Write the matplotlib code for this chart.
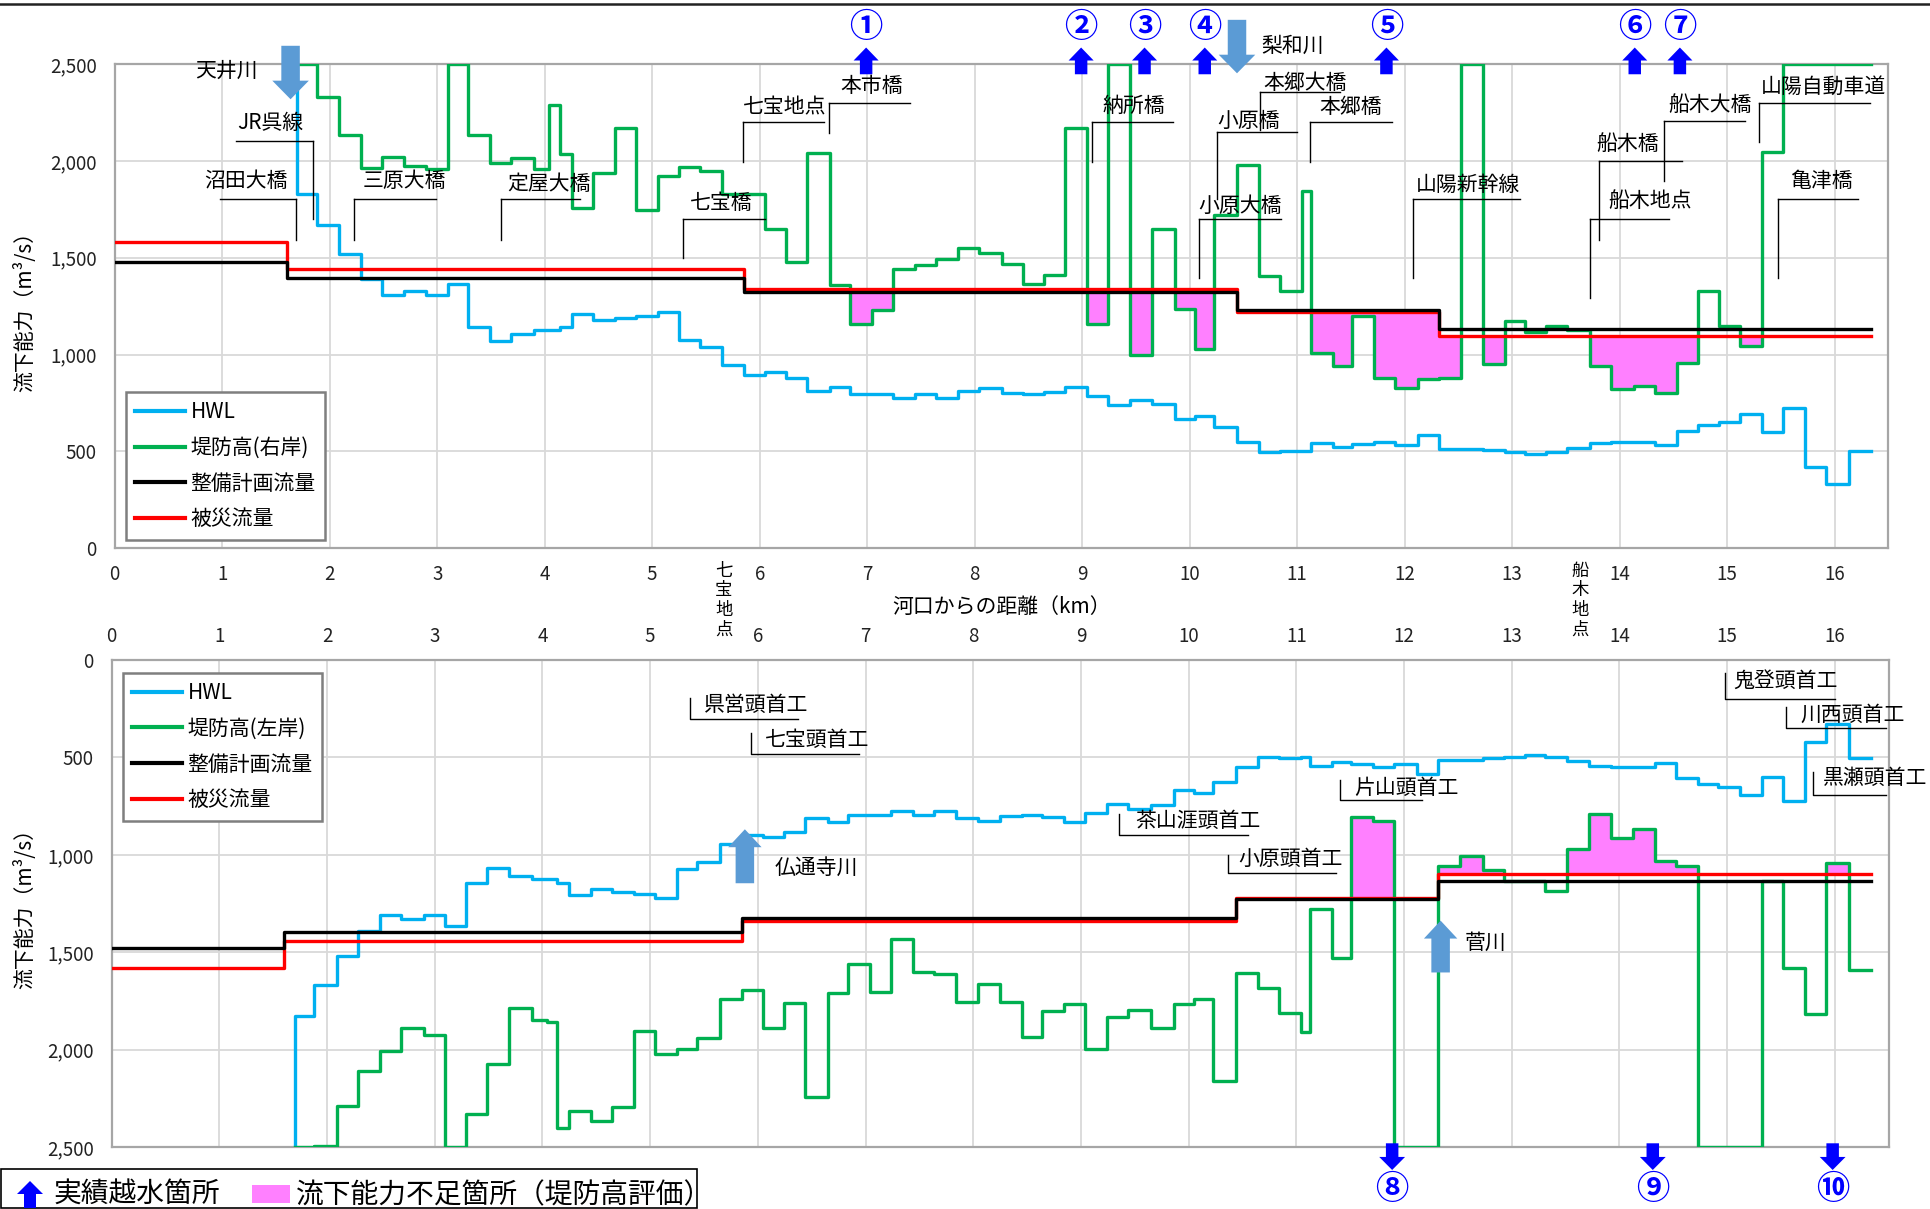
import numpy as np
import matplotlib
matplotlib.use("Agg")
import matplotlib.pyplot as plt
from matplotlib.patches import FancyArrow, Rectangle
from matplotlib.ticker import FuncFormatter

plt.rcParams["font.family"] = ["Noto Sans CJK JP", "DejaVu Sans"]

# ---------------------------------------------------------------- data
# cross-section boundaries (distance from river mouth, km)
section_km = [1.70, 1.88, 2.09, 2.29, 2.49, 2.69, 2.90, 3.10, 3.29, 3.49,
              3.69, 3.90, 4.04, 4.14, 4.25, 4.45, 4.65, 4.85, 5.05, 5.25,
              5.44, 5.65, 5.85, 6.05, 6.24, 6.44, 6.65, 6.84, 7.04, 7.24,
              7.44, 7.64, 7.84, 8.04, 8.25, 8.45, 8.64, 8.84, 9.04, 9.24,
              9.44, 9.65, 9.86, 10.05, 10.23, 10.44, 10.64, 10.84, 11.04, 11.13,
              11.33, 11.51, 11.71, 11.91, 12.12, 12.32, 12.52, 12.73, 12.93, 13.12,
              13.31, 13.51, 13.72, 13.92, 14.13, 14.33, 14.53, 14.73, 14.92, 15.12,
              15.32, 15.52, 15.72, 15.92, 16.13, 16.34]

# value used for capacities at or beyond the top of the axis
OFF_SCALE = 2500

# discharge capacity at HWL (m3/s)
hwl = [1827, 1667, 1517, 1390, 1310, 1330, 1310, 1365, 1143, 1068,
       1107, 1125, 1125, 1143, 1207, 1178, 1190, 1201, 1220, 1075,
       1039, 944, 896, 908, 881, 813, 832, 798, 798, 775,
       798, 775, 813, 827, 801, 795, 805, 832, 787, 741,
       763, 746, 668, 684, 626, 551, 496, 502, 500, 543,
       524, 536, 551, 535, 583, 515, 515, 505, 497, 488,
       496, 516, 543, 551, 551, 531, 606, 638, 650, 695,
       600, 722, 420, 331, 502]

# discharge capacity at levee crown, right bank (m3/s)
levee_right = [2500, 2330, 2132, 1961, 2022, 1973, 1956, 2500, 2132, 1988,
               2013, 1956, 2288, 2035, 1755, 1939, 2172, 1744, 1920, 1966,
               1947, 1829, 1829, 1649, 1479, 2042, 1360, 1160, 1232, 1444,
               1465, 1491, 1548, 1522, 1470, 1362, 1413, 2172, 1160, 2500,
               1000, 1649, 1236, 1029, 1718, 1978, 1404, 1327, 1844, 1010,
               939, 1198, 879, 827, 874, 879, 2500, 953, 1172, 1115,
               1149, 1129, 939, 822, 836, 801, 956, 1327, 1149, 1046,
               2045, 2500, 2500, 2500, 2500]

# discharge capacity at levee crown, left bank (m3/s)
levee_left = [2500, 2495, 2288, 2110, 2007, 1887, 1925, 2500, 2332, 2074,
              1788, 1848, 1857, 2401, 2315, 2365, 2296, 1905, 2023, 1999,
              1943, 1742, 1694, 1891, 1759, 2241, 1711, 1562, 1706, 1434,
              1603, 1612, 1757, 1665, 1757, 1937, 1800, 1768, 1999, 1831,
              1797, 1891, 1768, 1742, 2160, 1609, 1686, 1814, 1908, 1280,
              1528, 804, 826, 2500, 2500, 1056, 1006, 1078, 1136, 1136,
              1184, 970, 792, 915, 867, 1030, 1056, 2500, 2500, 2500,
              1136, 1583, 1817, 1044, 1591]

# design (plan) discharge and flood discharge, piecewise constant
flow_km = [0.0, 1.60, 5.85, 10.44, 12.32, 16.34]
plan_flow = [1480, 1395, 1325, 1228, 1132]
flood_flow = [1580, 1440, 1340, 1222, 1097]

# overflow sites (km)
overflow_right_km = [6.99, 8.99, 9.58, 10.14, 11.83, 14.14, 14.56]
overflow_left_km = [11.89, 14.31, 15.98]
circled = "①②③④⑤⑥⑦⑧⑨⑩"

# bridges etc. on the right-bank chart:
# (name, text x, text y, underline y, underline x0, x1, leader x, leader bottom)
right_labels = [
    ("JR呉線", 1.45, 2198, 2102, 1.125, 1.84, 1.84, 1698),
    ("沼田大橋", 1.22, 1896, 1805, 0.98, 1.69, 1.69, 1594),
    ("三原大橋", 2.69, 1896, 1805, 2.23, 2.99, 2.23, 1594),
    ("定屋大橋", 4.04, 1878, 1805, 3.59, 4.33, 3.59, 1594),
    ("七宝橋", 5.64, 1780, 1698, 5.29, 6.05, 5.29, 1499),
    ("七宝地点", 6.23, 2275, 2203, 5.84, 6.60, 5.84, 1996),
    ("本市橋", 7.04, 2384, 2301, 6.64, 7.40, 6.64, 2146),
    ("納所橋", 9.48, 2284, 2203, 9.09, 9.84, 9.09, 1996),
    ("小原大橋", 10.47, 1766, 1698, 10.09, 10.85, 10.09, 1396),
    ("小原橋", 10.55, 2206, 2149, 10.25, 11.00, 10.25, 1801),
    ("本郷大橋", 11.07, 2404, 2353, 10.65, 11.40, 10.65, 2160),
    ("本郷橋", 11.50, 2280, 2203, 11.12, 11.88, 11.12, 1996),
    ("山陽新幹線", 12.59, 1878, 1805, 12.08, 13.07, 12.08, 1396),
    ("船木地点", 14.28, 1792, 1698, 13.72, 14.46, 13.72, 1293),
    ("船木橋", 14.07, 2085, 1999, 13.81, 14.58, 13.81, 1594),
    ("船木大橋", 14.84, 2287, 2206, 14.41, 15.17, 14.41, 1896),
    ("山陽自動車道", 15.90, 2384, 2297, 15.30, 16.33, 15.30, 2097),
    ("亀津橋", 15.88, 1896, 1805, 15.47, 16.22, 15.47, 1396),
]

# weirs on the left-bank chart:
# (name, text x, text y, leader x, leader top, underline y, underline x1)
left_labels = [
    ("県営頭首工", 5.98, 231, 5.37, 197, 303, 6.37),
    ("七宝頭首工", 6.55, 411, 5.94, 376, 483, 6.94),
    ("茶山涯頭首工", 10.09, 826, 9.35, 790, 898, 10.55),
    ("小原頭首工", 10.95, 1022, 10.37, 1001, 1095, 11.37),
    ("片山頭首工", 12.02, 659, 11.41, 616, 719, 12.17),
    ("鬼登頭首工", 15.54, 106, 14.98, 68, 200, 16.00),
    ("川西頭首工", 16.17, 282, 15.55, 243, 347, 16.48),
    ("黒瀬頭首工", 16.37, 607, 15.80, 573, 693, 16.48),
]

# tributaries: (name, km, arrow tail, arrow tip, text x, text y)
tributaries_right = [("天井川", 1.636, 2594, 2318, 1.04, 2464),
                     ("梨和川", 10.44, 2728, 2452, 10.96, 2594)]
tributaries_left = [("仏通寺川", 5.88, 1146, 869, 6.54, 1069),
                    ("菅川", 12.34, 1604, 1338, 12.76, 1451)]

stations = [("七宝地点", 5.665), ("船木地点", 13.63)]

# ---------------------------------------------------------------- style
C_HWL = "#00B0F0"
C_LEVEE = "#00B050"
C_PLAN = "#000000"
C_FLOOD = "#FF0000"
C_PINK = "#FF80FF"
C_TRIB = "#5B9BD5"
C_OVER = "#0000FF"
LW = 2.4
FS_LAB = 15

W, H = 1930, 1209
fig = plt.figure(figsize=(W / 100, H / 100), dpi=100)
ax1 = fig.add_axes([114.7 / W, 1 - 548.3 / H, 16.5 * 107.5 / W, 484.3 / H])
ax2 = fig.add_axes([111.6 / W, 1 - 1147 / H, 16.5 * 107.7 / W, 487 / H])

fmt = FuncFormatter(lambda v, p: f"{int(v):,}")


def step_xy(edges, vals):
    return np.asarray(edges, float), np.append(vals, vals[-1])


def shortfall(ax, levee):
    edges = np.union1d(section_km, flow_km)
    edges = edges[(edges >= section_km[0]) & (edges <= section_km[-1])]
    for a, b in zip(edges[:-1], edges[1:]):
        m = 0.5 * (a + b)
        g = levee[np.searchsorted(section_km, m) - 1]
        r = flood_flow[np.searchsorted(flow_km, m) - 1]
        if g < r:
            ax.fill_between([a, b], [g, g], [r, r], color=C_PINK, lw=0, zorder=2)


def base_axes(ax):
    ax.set_xlim(0, 16.5)
    ax.set_xticks(range(0, 17))
    ax.set_yticks(range(0, 2501, 500))
    ax.yaxis.set_major_formatter(fmt)
    ax.grid(True, color="#D9D9D9", lw=1.3)
    ax.set_axisbelow(True)
    for s in ax.spines.values():
        s.set_color("#A6A6A6")
        s.set_linewidth(1.6)
    ax.tick_params(length=0, labelsize=13.5, colors="#222222")
    ax.tick_params(axis="y", pad=13)


def block_arrow(ax, x, tail, tip, shaft, head, head_len, color, clip=False):
    a = FancyArrow(x, tail, 0, tip - tail, width=shaft, head_width=head,
                   head_length=head_len, length_includes_head=True,
                   color=color, lw=0, zorder=6)
    a.set_clip_on(clip)
    ax.add_patch(a)


def draw_panel(ax, levee, levee_label):
    shortfall(ax, levee)
    # HWL capacity enters from beyond the axis at the first section
    x, y = step_xy(section_km, hwl)
    x = np.insert(x, 0, x[0])
    y = np.insert(y, 0, OFF_SCALE)
    h1, = ax.plot(x, y, drawstyle="steps-post", color=C_HWL, lw=LW, zorder=3)
    x, y = step_xy(section_km, levee)
    h2, = ax.plot(x, y, drawstyle="steps-post", color=C_LEVEE, lw=LW, zorder=3)
    x, y = step_xy(flow_km, flood_flow)
    h4, = ax.plot(x, y, drawstyle="steps-post", color=C_FLOOD, lw=LW, zorder=4)
    x, y = step_xy(flow_km, plan_flow)
    h3, = ax.plot(x, y, drawstyle="steps-post", color=C_PLAN, lw=LW, zorder=4)
    return [h1, h2, h3, h4], ["HWL", levee_label, "整備計画流量", "被災流量"]


def legend(ax, handles, labels, anchor):
    leg = ax.legend(handles, labels, loc="upper left", bbox_to_anchor=anchor,
                    borderaxespad=0, fontsize=15, handlelength=2.4,
                    handletextpad=0.25, labelspacing=0.66, borderpad=0.45,
                    fancybox=False, framealpha=1, edgecolor="#7F7F7F")
    leg.get_frame().set_linewidth(1.8)
    for ln in leg.get_lines():
        ln.set_linewidth(3.0)


# ---------------------------------------------------------------- right bank
base_axes(ax1)
ax1.set_ylim(0, 2500)
ax1.tick_params(axis="x", pad=11)
handles, labels = draw_panel(ax1, levee_right, "堤防高(右岸)")
legend(ax1, handles, labels, (0.0064, 0.3234))
ax1.text(-0.0508, 0.5, "流下能力（m³/s）", transform=ax1.transAxes, rotation=90,
         ha="center", va="center", fontsize=FS_LAB)
ax1.text(8.25, -303, "河口からの距離（km）", ha="center", va="center",
         fontsize=FS_LAB)
for name, km in stations:
    ax1.text(km, -268, "\n".join(name), ha="center", va="center",
             fontsize=12.5, linespacing=1.12, clip_on=False)

for name, tx, ty, ly, x0, x1, vx, vb in right_labels:
    ax1.text(tx, ty, name, ha="center", va="center", fontsize=FS_LAB, zorder=7)
    ax1.plot([x0, x1], [ly, ly], color="black", lw=1.0, zorder=5)
    ax1.plot([vx, vx], [ly, vb], color="black", lw=1.0, zorder=5)

for name, km, tail, tip, tx, ty in tributaries_right:
    block_arrow(ax1, km, tail, tip, 0.172, 0.34, 96, C_TRIB)
    ax1.text(tx, ty, name, ha="center", va="center", fontsize=FS_LAB)

for i, km in enumerate(overflow_right_km):
    block_arrow(ax1, km, 2447, 2585, 0.116, 0.233, 67, C_OVER)
    ax1.text(km, 2688, circled[i], ha="center", va="center", color=C_OVER,
             fontsize=24, fontweight="bold")

# ---------------------------------------------------------------- left bank
base_axes(ax2)
ax2.set_ylim(2500, 0)
ax2.xaxis.tick_top()
ax2.tick_params(axis="x", pad=9)
handles, labels = draw_panel(ax2, levee_left, "堤防高(左岸)")
legend(ax2, handles, labels, (0.0063, 0.974))
ax2.text(-0.049, 0.5, "流下能力（m³/s）", transform=ax2.transAxes, rotation=90,
         ha="center", va="center", fontsize=FS_LAB)

for name, tx, ty, vx, vt, ly, x1 in left_labels:
    ax2.text(tx, ty, name, ha="center", va="center", fontsize=FS_LAB, zorder=7,
             clip_on=False)
    ax2.plot([vx, vx, x1], [vt, ly, ly], color="black", lw=1.0, zorder=5,
             clip_on=False)

for name, km, tail, tip, tx, ty in tributaries_left:
    block_arrow(ax2, km, tail, tip, 0.172, 0.31, 92, C_TRIB)
    ax2.text(tx, ty, name, ha="center", va="center", fontsize=FS_LAB)

for j, km in enumerate(overflow_left_km):
    block_arrow(ax2, km, 2481, 2618, 0.116, 0.24, 67, C_OVER)
    ax2.text(km, 2716, circled[7 + j], ha="center", va="center", color=C_OVER,
             fontsize=24, fontweight="bold")

# ---------------------------------------------------------------- page furniture
ov = fig.add_axes([0, 0, 1, 1], zorder=10)
ov.set_xlim(0, W)
ov.set_ylim(H, 0)
ov.axis("off")
ov.plot([0, W], [4, 4], color="#222222", lw=1.8)
ov.add_patch(Rectangle((1, 1168.5), 696, 39.5, fill=False, edgecolor="black",
                       lw=1.2))
ov.add_patch(FancyArrow(30, 1208, 0, -27, width=12, head_width=26,
                        head_length=13, length_includes_head=True,
                        color=C_OVER, lw=0))
ov.text(54, 1195, "実績越水箇所", ha="left", va="center", fontsize=20)
ov.add_patch(Rectangle((252, 1185), 38, 18, color=C_PINK, lw=0))
ov.text(296, 1195, "流下能力不足箇所（堤防高評価）", ha="left", va="center",
        fontsize=20)

fig.savefig("out.png", dpi=100)
